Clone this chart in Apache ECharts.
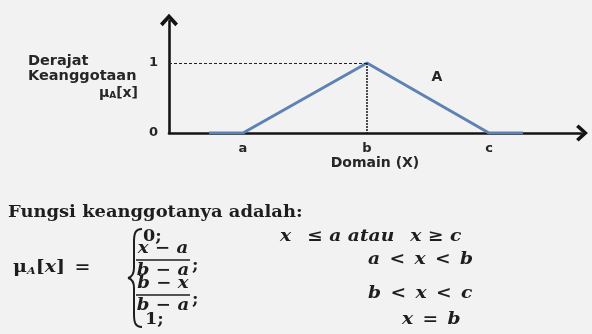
<!DOCTYPE html>
<html>
<head>
<meta charset="utf-8">
<script src="https://cdn.jsdelivr.net/npm/echarts@6/dist/echarts.min.js"></script>
<style>
  html, body { margin: 0; padding: 0; background: #f2f2f2; }
  #chart { width: 592px; height: 334px; }
</style>
</head>
<body>
<div id="chart"></div>
<script>
// Triangular membership function: points a, b, c on the domain axis
const pointNames = ['a', 'b', 'c'];
const pointX = [1.85, 4.95, 8.0];
// Drawn curve: flat at 0, rising to 1 at b, falling back to 0, flat again
const curveX = [1.0, 1.85, 4.95, 8.0, 8.85];
const curveY = [0, 0, 1, 0, 0];
// Membership degree ticks
const yTicks = [0, 1];
const yTickLabels = ['0', '1'];
// Position of the fuzzy set name
const setName = 'A';
const setNameX = 6.7;
const setNameY = 0.8;

const peakX = pointX[1];
const curve = curveX.map((x, i) => [x, curveY[i]]);

// Open chevron used as the axis arrow head
const chevron = 'path://M10 0 L20 11 L17 14 L10 6.2 L3 14 L0 11 Z';

const labelFont = { fontFamily: 'DejaVu Sans', fontWeight: 'bold', fontSize: 14, color: '#262626' };
const serif = 'DejaVu Serif';
const ink = '#1e1e1e';
const sp = '\u2002'; // en space, for math spacing around relations

// Text in the formula block (serif, bold; italic for variables)
function mathText(x, y, text, opts) {
  const o = opts || {};
  return {
    type: 'text', x: x, y: y, silent: true,
    scaleX: o.scaleX || 1.1,
    style: {
      text: text, fill: ink, fontFamily: serif, fontSize: o.size || 17,
      fontWeight: 'bold', fontStyle: o.upright ? 'normal' : 'italic',
      verticalAlign: 'middle', align: o.align || 'left'
    }
  };
}

function curvePiece(x1, y1, cpx1, cpy1, cpx2, cpy2, x2, y2) {
  return {
    type: 'bezierCurve', silent: true,
    shape: { x1, y1, cpx1, cpy1, cpx2, cpy2, x2, y2 },
    style: { fill: 'none', stroke: ink, lineWidth: 2 }
  };
}
function straight(x1, y1, x2, y2, w) {
  return { type: 'line', silent: true, shape: { x1, y1, x2, y2 }, style: { stroke: ink, lineWidth: w || 2 } };
}

const chart = echarts.init(document.getElementById('chart'), null, { renderer: 'canvas' });

chart.setOption({
  backgroundColor: '#f2f2f2',
  animation: false,
  grid: { left: 169, right: 11, top: 21, bottom: 201, containLabel: false },
  xAxis: {
    type: 'value', min: 0, max: 10.3,
    splitLine: { show: false },
    axisTick: { show: false },
    axisLine: {
      show: true, onZero: false,
      lineStyle: { color: '#141414', width: 2.6 },
      symbol: ['none', chevron], symbolSize: [17, 15], symbolOffset: [0, 1]
    },
    axisLabel: {
      customValues: pointX,
      formatter: v => pointNames[pointX.indexOf(v)] || '',
      margin: 9,
      ...labelFont, fontSize: 13
    },
    name: 'Domain (X)', nameLocation: 'middle', nameGap: 19,
    nameTextStyle: { ...labelFont }
  },
  yAxis: {
    type: 'value', min: 0, max: 1.6,
    splitLine: { show: false },
    axisTick: { show: false },
    axisLine: {
      show: true, onZero: false,
      lineStyle: { color: '#141414', width: 2.6 },
      symbol: ['none', chevron], symbolSize: [18, 16], symbolOffset: [0, 1]
    },
    axisLabel: {
      customValues: yTicks,
      formatter: v => yTickLabels[yTicks.indexOf(v)],
      margin: 11,
      ...labelFont, fontSize: 13
    }
  },
  series: [{
    type: 'line',
    data: curve,
    symbol: 'none',
    lineStyle: { color: '#5d82b3', width: 3 },
    z: 3,
    markLine: {
      silent: true, symbol: 'none', label: { show: false },
      lineStyle: { color: '#222', width: 1, type: [3, 2] },
      data: [
        [{ coord: [0, 1] }, { coord: [peakX, 1] }],
        [{ coord: [peakX, 1], lineStyle: { type: [2, 1], width: 1.6 } }, { coord: [peakX, 0] }]
      ]
    },
    markPoint: {
      silent: true, symbol: 'circle', symbolSize: 0,
      label: { show: true, position: 'inside', formatter: setName, ...labelFont, fontSize: 14 },
      data: [{ coord: [setNameX, setNameY] }]
    }
  }],
  graphic: [
    // Axis caption for the membership degree
    { type: 'text', x: 28, y: 61, silent: true,
      style: { text: 'Derajat', fill: '#262626', fontFamily: 'DejaVu Sans', fontWeight: 'bold', fontSize: 14.5, verticalAlign: 'middle' } },
    { type: 'text', x: 28, y: 76, silent: true,
      style: { text: 'Keanggotaan', fill: '#262626', fontFamily: 'DejaVu Sans', fontWeight: 'bold', fontSize: 14.5, verticalAlign: 'middle' } },
    { type: 'text', x: 138, y: 93, silent: true,
      style: {
        text: '{m|μ}{s|A}{m|[x]}', align: 'right', verticalAlign: 'middle',
        rich: {
          m: { fill: '#262626', fontFamily: 'DejaVu Sans', fontWeight: 'bold', fontSize: 14 },
          s: { fill: '#262626', fontFamily: 'DejaVu Sans', fontWeight: 'bold', fontSize: 9, padding: [5, 0, 0, 0] }
        }
      } },

    // Definition of the membership function
    { type: 'text', x: 8, y: 213, silent: true, scaleX: 1.12,
      style: { text: 'Fungsi keanggotanya adalah:', fill: ink, fontFamily: serif, fontWeight: 'bold', fontSize: 16, verticalAlign: 'middle' } },
    { type: 'text', x: 13, y: 268, silent: true, scaleX: 1.12,
      style: {
        text: '{m|μ}{s|A}{m|[}{i|x}{m|]' + sp + '=}', verticalAlign: 'middle',
        rich: {
          m: { fill: ink, fontFamily: serif, fontWeight: 'bold', fontSize: 17 },
          i: { fill: ink, fontFamily: serif, fontWeight: 'bold', fontStyle: 'italic', fontSize: 17 },
          s: { fill: ink, fontFamily: serif, fontWeight: 'bold', fontStyle: 'italic', fontSize: 10, padding: [7, 0, 0, 0] }
        }
      } },
    // Large left brace
    curvePiece(142, 229, 135, 229, 134, 234, 134, 242),
    straight(134, 242, 134, 268),
    curvePiece(134, 268, 134, 274, 132, 277, 128, 278),
    curvePiece(128, 278, 132, 279, 134, 282, 134, 288),
    straight(134, 288, 134, 314),
    curvePiece(134, 314, 134, 322, 135, 327, 142, 327),
    // Cases
    mathText(143, 237, '0;', { upright: true, size: 16 }),
    mathText(163, 249, 'x − a', { align: 'center', size: 16.5 }),
    straight(136, 260, 190, 260, 1.4),
    mathText(163, 271, 'b − a', { align: 'center', size: 16.5 }),
    mathText(192, 266, ';', { upright: true, size: 16 }),
    mathText(163, 284, 'b − x', { align: 'center', size: 16.5 }),
    straight(136, 295, 190, 295, 1.4),
    mathText(163, 306, 'b − a', { align: 'center', size: 16.5 }),
    mathText(192, 300, ';', { upright: true, size: 16 }),
    mathText(145, 320, '1;', { upright: true, size: 16 }),
    // Conditions
    mathText(280, 237, 'x' + sp + ' ≤ a atau' + sp + ' x ≥ c'),
    mathText(368, 260, 'a' + sp + '<' + sp + 'x' + sp + '<' + sp + 'b'),
    mathText(368, 294, 'b' + sp + '<' + sp + 'x' + sp + '<' + sp + 'c'),
    mathText(402, 320, 'x' + sp + '=' + sp + 'b')
  ]
});
</script>
</body>
</html>
